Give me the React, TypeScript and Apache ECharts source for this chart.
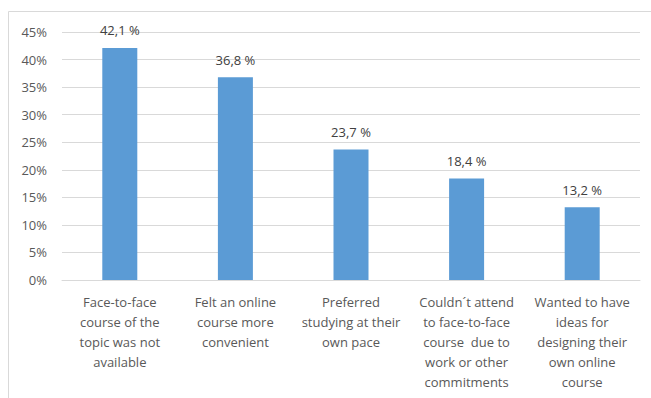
import React, { useEffect, useRef } from "react";
import * as echarts from "echarts";

const categories = [
  "Face-to-face\ncourse of the\ntopic was not\navailable",
  "Felt an online\ncourse more\nconvenient",
  "Preferred\nstudying at their\nown pace",
  "Couldn´t attend\nto face-to-face\ncourse  due to\nwork or other\ncommitments",
  "Wanted to have\nideas for\ndesigning their\nown online\ncourse",
];
const values = [42.1, 36.8, 23.7, 18.4, 13.2];
const valueLabels = ["42,1 %", "36,8 %", "23,7 %", "18,4 %", "13,2 %"];

const FONT = "'Open Sans', 'Noto Sans', sans-serif";

export default function App() {
  const ref = useRef<HTMLDivElement>(null);
  useEffect(() => {
    if (!ref.current) return;
    const chart = echarts.init(ref.current, undefined, { renderer: "svg" });
    chart.setOption({
      animation: false,
      backgroundColor: "#ffffff",
      graphic: [
        {
          type: "rect",
          shape: { x: 8.5, y: 11.5, width: 700, height: 400 },
          style: { fill: "none", stroke: "#d9d9d9", lineWidth: 1 },
          silent: true,
        },
      ],
      grid: { left: 62, right: 11, top: 32, bottom: 118 },
      xAxis: {
        type: "category",
        data: categories,
        axisLine: { show: true, lineStyle: { color: "#d9d9d9" } },
        axisTick: { show: false },
        axisLabel: {
          interval: 0,
          color: "#595959",
          fontFamily: FONT,
          fontSize: 13,
          lineHeight: 20,
          margin: 12,
          align: "center",
        },
      },
      yAxis: {
        type: "value",
        min: 0,
        max: 45,
        interval: 5,
        axisLine: { show: false },
        axisTick: { show: false },
        splitLine: { lineStyle: { color: "#d9d9d9" } },
        axisLabel: {
          formatter: "{value}%",
          color: "#595959",
          fontFamily: FONT,
          fontSize: 13,
          margin: 15,
        },
      },
      series: [
        {
          type: "bar",
          data: values,
          barWidth: 35,
          itemStyle: { color: "#5b9bd5" },
          label: {
            show: true,
            position: "top",
            distance: 11,
            color: "#404040",
            fontFamily: FONT,
            fontSize: 13,
            formatter: (p: any) => valueLabels[p.dataIndex],
          },
        },
      ],
    });
    return () => chart.dispose();
  }, []);
  return (
    <div
      ref={ref}
      style={{ position: "fixed", left: 0, top: 0, width: 651, height: 398 }}
    />
  );
}
